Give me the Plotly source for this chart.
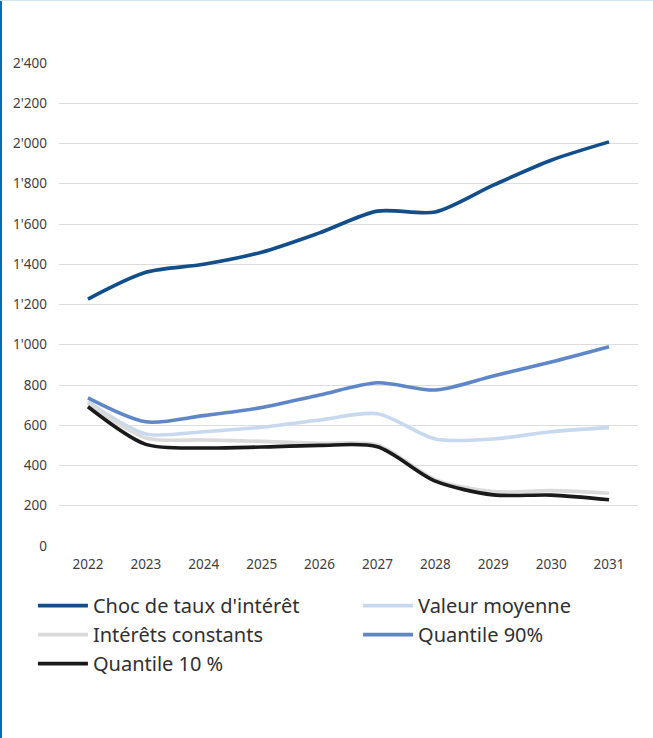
import plotly.graph_objects as go

years = ["2022", "2023", "2024", "2025", "2026", "2027", "2028", "2029", "2030", "2031"]
choc_taux = [1227, 1360, 1400, 1460, 1556, 1664, 1660, 1793, 1917, 2008]
valeur_moyenne = [717, 557, 568, 590, 626, 657, 532, 532, 568, 588]
interets_constants = [709, 537, 527, 520, 510, 502, 330, 270, 275, 262]
quantile_90 = [736, 617, 648, 688, 750, 811, 775, 845, 914, 990]
quantile_10 = [692, 505, 487, 492, 500, 493, 322, 254, 253, 230]

series = [
    ("Choc de taux d'intérêt", choc_taux, "#124E8A", "legend"),
    ("Valeur moyenne", valeur_moyenne, "#C8D9EF", "legend2"),
    ("Intérêts constants", interets_constants, "#DADADA", "legend"),
    ("Quantile 90%", quantile_90, "#5F87C8", "legend2"),
    ("Quantile 10 %", quantile_10, "#1A1A1A", "legend"),
]

W, H = 653, 738
ML, MR, MT, MB = 59, 15, 63, 192

fig = go.Figure()
for name, vals, col, leg in series:
    fig.add_trace(go.Scatter(
        x=years, y=vals, name=name, mode="lines", legend=leg, legendgroup=name,
        line=dict(color=col, width=3.6, shape="spline", smoothing=0.8),
    ))

pw = W - ML - MR
ph = H - MT - MB
fig.add_shape(type="line", xref="paper", yref="paper",
              x0=-ML / pw + 1 / pw, x1=-ML / pw + 1 / pw, y0=-MB / ph, y1=1 + MT / ph,
              line=dict(color="#0A6BB8", width=2))
fig.add_shape(type="line", xref="paper", yref="paper",
              x0=-ML / pw, x1=1 + MR / pw, y0=1 + (MT - 0.5) / ph, y1=1 + (MT - 0.5) / ph,
              line=dict(color="#D5E5F3", width=1))

leg_common = dict(orientation="v", yanchor="top", xanchor="left", traceorder="normal",
                  font=dict(size=20, color="#303030"), itemwidth=50,
                  bgcolor="rgba(0,0,0,0)", tracegroupgap=4)

fig.update_layout(
    width=W, height=H,
    margin=dict(l=ML, r=MR, t=MT, b=MB, autoexpand=False),
    paper_bgcolor="white", plot_bgcolor="white",
    separators=".'",
    font=dict(family="Noto Sans", color="#404040", size=13),
    xaxis=dict(type="category", range=[-0.5, 9.5], showgrid=False, zeroline=False,
               showline=False, ticks="", ticklabelstandoff=8,
               tickfont=dict(size=13.5, color="#404040")),
    yaxis=dict(range=[0, 2400], dtick=200, tickformat=",d", showgrid=True,
               gridcolor="#DDDDDD", gridwidth=1, zeroline=False, showline=False,
               ticks="", ticklabelstandoff=11,
               tickfont=dict(size=13.5, color="#404040")),
    showlegend=True,
    legend=dict(x=-0.045, y=-0.083, **leg_common),
    legend2=dict(x=0.5165, y=-0.083, **leg_common),
)

fig.write_html("out.html")
